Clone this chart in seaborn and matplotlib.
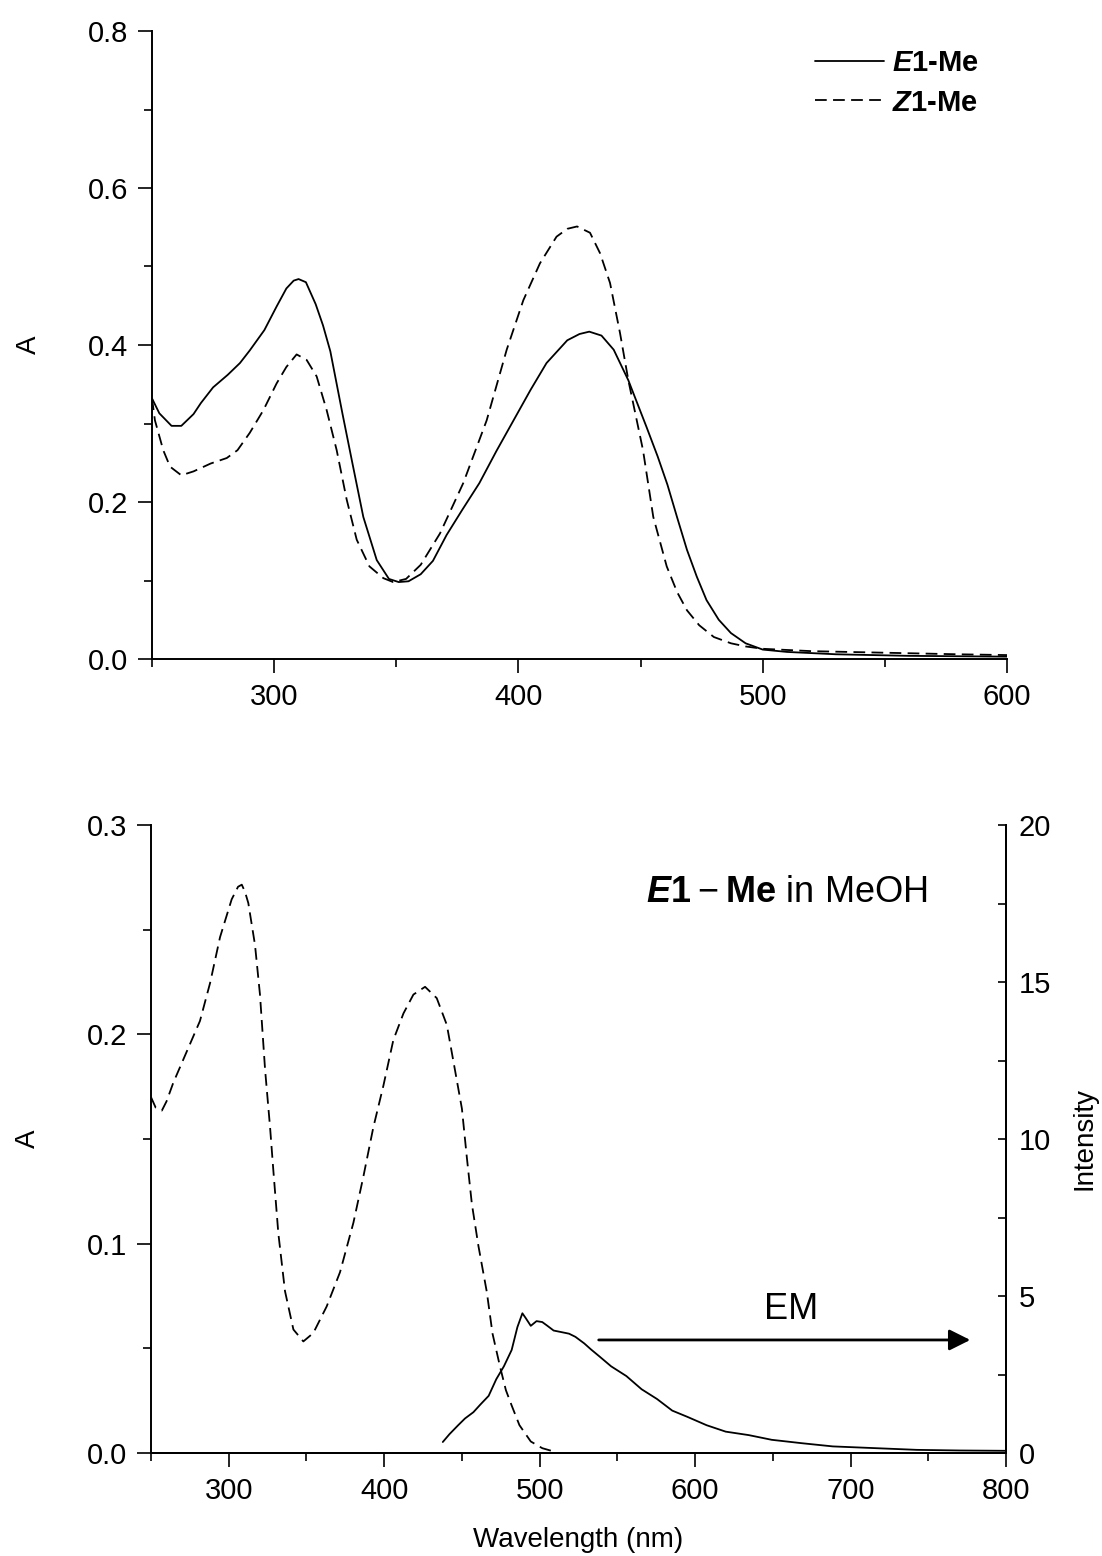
import matplotlib
matplotlib.use("Agg")
import matplotlib.pyplot as plt
from matplotlib.ticker import MultipleLocator, FormatStrFormatter
import pandas as pd
import seaborn as sns

# ---- absorption spectra (top panel) ----
e_wl = [250, 253, 258, 262, 267, 270, 275, 281, 286, 290, 296, 301, 305, 308, 310,
        313, 317, 320, 323, 328, 332, 336.5, 342, 347, 351, 355, 360, 365, 370.6,
        377, 384, 391, 398, 405, 411.5, 420, 425, 429, 434, 439, 445, 452.5, 457,
        461, 465, 469, 473, 477, 482, 487, 493, 500, 510, 530, 560, 600]
e_abs = [0.332, 0.313, 0.297, 0.297, 0.312, 0.326, 0.346, 0.362, 0.377, 0.393, 0.419,
         0.449, 0.472, 0.482, 0.484, 0.480, 0.452, 0.425, 0.392, 0.312, 0.250, 0.181,
         0.126, 0.102, 0.098, 0.099, 0.108, 0.125, 0.158, 0.190, 0.224, 0.265, 0.304,
         0.343, 0.377, 0.406, 0.414, 0.417, 0.412, 0.394, 0.355, 0.295, 0.258, 0.222,
         0.180, 0.139, 0.105, 0.075, 0.050, 0.033, 0.020, 0.012, 0.009, 0.006, 0.004,
         0.003]

z_wl = [250, 251.2, 254.6, 257.4, 262, 267, 274, 280.6, 285, 290, 295.6, 301, 305,
        309.2, 313.3, 317.4, 321.5, 325.6, 329.7, 333.8, 339, 344.7, 348.7, 354, 360,
        367.9, 377.4, 387, 395.2, 402, 408.8, 415.6, 420, 424, 429.3, 433.4, 437.5,
        441.6, 445, 451, 455.2, 460.7, 465, 469, 474, 480, 487, 493, 500, 520, 550,
        580, 600]
z_abs = [0.332, 0.304, 0.266, 0.245, 0.234, 0.239, 0.249, 0.256, 0.266, 0.288, 0.317,
         0.351, 0.372, 0.388, 0.381, 0.360, 0.317, 0.266, 0.203, 0.152, 0.118, 0.103,
         0.098, 0.102, 0.120, 0.160, 0.224, 0.304, 0.394, 0.457, 0.504, 0.538, 0.548,
         0.551, 0.543, 0.517, 0.479, 0.415, 0.355, 0.266, 0.181, 0.118, 0.085, 0.062,
         0.043, 0.028, 0.020, 0.016, 0.013, 0.010, 0.008, 0.006, 0.005]

# ---- E1-Me in MeOH (bottom panel) ----
abs_wl = [250, 253, 257, 260, 264.4, 270.8, 281.5, 288, 294.4, 301.9, 306, 308.4,
          310.5, 312.6, 316.9, 320.1, 323.4, 326.6, 328.7, 331.9, 336.2, 341.6, 348,
          354.4, 363, 371.6, 380.2, 386.6, 393, 399.5, 405.9, 412.4, 418.8, 426.3,
          433.8, 440.3, 445.6, 450, 453.2, 456.4, 460.6, 466, 469.7, 474.6, 478.3,
          482, 487, 494.3, 501.7, 507.8]
abs_val = [0.170, 0.165, 0.1636, 0.168, 0.177, 0.188, 0.2064, 0.2245, 0.2464, 0.2645,
           0.2705, 0.2715, 0.268, 0.2627, 0.2427, 0.219, 0.183, 0.1555, 0.135, 0.105,
           0.0773, 0.059, 0.0533, 0.0573, 0.070, 0.0864, 0.110, 0.132, 0.1555, 0.1755,
           0.1973, 0.210, 0.219, 0.2227, 0.2173, 0.2045, 0.1827, 0.1645, 0.141, 0.119,
           0.099, 0.077, 0.057, 0.041, 0.030, 0.0227, 0.0133, 0.0055, 0.0023, 0.001]

em_wl = [437.7, 442, 447.5, 452, 457.4, 462, 467.2, 472.1, 477, 482, 485.7, 488.9,
         491, 494.3, 498, 501.7, 505, 509, 514, 518.9, 523, 528.7, 533, 538.6, 546,
         555.8, 565.6, 575.5, 585.3, 595.1, 607.4, 619.7, 634.5, 649.3, 669, 688.6,
         713.2, 742.7, 770, 800]
em_int = [0.35, 0.60, 0.88, 1.10, 1.30, 1.55, 1.82, 2.35, 2.76, 3.28, 4.01, 4.45,
          4.30, 4.05, 4.20, 4.17, 4.05, 3.90, 3.85, 3.80, 3.70, 3.49, 3.30, 3.07, 2.76,
          2.45, 2.03, 1.72, 1.35, 1.15, 0.885, 0.68, 0.57, 0.42, 0.31, 0.21, 0.16,
          0.10, 0.08, 0.07]

top_df = pd.concat([
    pd.DataFrame({"wl": e_wl, "A": e_abs, "isomer": "E"}),
    pd.DataFrame({"wl": z_wl, "A": z_abs, "isomer": "Z"}),
])
abs_df = pd.DataFrame({"wl": abs_wl, "A": abs_val})
em_df = pd.DataFrame({"wl": em_wl, "I": em_int})

sns.set_theme(style="ticks")
plt.rcParams["font.family"] = ["Liberation Sans", "DejaVu Sans"]
plt.rcParams["mathtext.fontset"] = "custom"
plt.rcParams["mathtext.rm"] = "Liberation Sans"
plt.rcParams["mathtext.it"] = "Liberation Sans:italic"
plt.rcParams["mathtext.bf"] = "Liberation Sans:bold"
plt.rcParams["mathtext.bfit"] = "Liberation Sans:bold:italic"
plt.rcParams["axes.linewidth"] = 1.4
plt.rcParams["axes.edgecolor"] = "black"
plt.rcParams["text.color"] = "black"
plt.rcParams["axes.labelcolor"] = "black"
plt.rcParams["xtick.color"] = "black"
plt.rcParams["ytick.color"] = "black"

LW = 1.3
DASH = (0, (6.5, 3.5))
TICK = 21
LABEL = 20

fig = plt.figure(figsize=(11.02, 15.56), dpi=100)
ax_top = fig.add_axes([152 / 1102, 897 / 1556, 855 / 1102, 628 / 1556])
ax_bot = fig.add_axes([151 / 1102, 103 / 1556, 855 / 1102, 628 / 1556])

# top: absorption of both isomers
sns.lineplot(data=top_df[top_df.isomer == "E"], x="wl", y="A", ax=ax_top,
             color="black", lw=LW, label=r"$\mathbfit{E}$1-Me", sort=False)
sns.lineplot(data=top_df[top_df.isomer == "Z"], x="wl", y="A", ax=ax_top,
             color="black", lw=LW, linestyle=DASH, label=r"$\mathbfit{Z}$1-Me",
             sort=False)
ax_top.set_xlim(250, 600)
ax_top.set_ylim(0, 0.8)
ax_top.xaxis.set_major_locator(MultipleLocator(100))
ax_top.xaxis.set_minor_locator(MultipleLocator(50))
ax_top.yaxis.set_major_locator(MultipleLocator(0.2))
ax_top.yaxis.set_minor_locator(MultipleLocator(0.1))
ax_top.yaxis.set_major_formatter(FormatStrFormatter("%.1f"))
ax_top.set_xlabel("")
ax_top.set_ylabel("A", fontsize=LABEL)
ax_top.yaxis.set_label_coords(-0.1287, 0.5)
for s in ("top", "right"):
    ax_top.spines[s].set_visible(False)
leg = ax_top.legend(loc="upper left", bbox_to_anchor=(815 / 1102, 1507 / 1556),
                    bbox_transform=fig.transFigure, frameon=False,
                    prop={"size": 21, "weight": "bold"}, handlelength=2.35,
                    handletextpad=0.28, borderpad=0, borderaxespad=0,
                    labelspacing=0.4)

# bottom: absorption (left axis) and emission (right axis)
sns.lineplot(data=abs_df, x="wl", y="A", ax=ax_bot, color="black", lw=LW,
             linestyle=DASH, sort=False)
ax_bot.set_xlim(250, 800)
ax_bot.set_ylim(0, 0.3)
ax_bot.xaxis.set_major_locator(MultipleLocator(100))
ax_bot.xaxis.set_minor_locator(MultipleLocator(50))
ax_bot.yaxis.set_major_locator(MultipleLocator(0.1))
ax_bot.yaxis.set_minor_locator(MultipleLocator(0.05))
ax_bot.yaxis.set_major_formatter(FormatStrFormatter("%.1f"))
ax_bot.set_ylabel("A", fontsize=LABEL)
ax_bot.yaxis.set_label_coords(-0.1287, 0.5)
ax_bot.set_xlabel("Wavelength (nm)", fontsize=LABEL)
ax_bot.xaxis.set_label_coords(0.5, -0.118)
ax_bot.spines["top"].set_visible(False)

ax_em = ax_bot.twinx()
sns.lineplot(data=em_df, x="wl", y="I", ax=ax_em, color="black", lw=LW, sort=False)
ax_em.set_ylim(0, 20)
ax_em.set_xlim(250, 800)
ax_em.yaxis.set_major_locator(MultipleLocator(5))
ax_em.yaxis.set_minor_locator(MultipleLocator(2.5))
ax_em.set_ylabel("Intensity", fontsize=LABEL)
ax_em.yaxis.set_label_coords(1.077, 0.5)
ax_em.spines["top"].set_visible(False)
ax_em.spines["left"].set_visible(False)
ax_em.tick_params(axis="y", which="both", direction="in", length=6, width=1.2,
                  labelsize=TICK, pad=9, colors="black")

for ax in (ax_top, ax_bot):
    ax.tick_params(axis="both", which="major", direction="out", length=10,
                   width=1.2, labelsize=TICK, pad=7, colors="black")
    ax.tick_params(axis="both", which="minor", direction="out", length=6,
                   width=1.2)

ax_em.annotate("", xy=(777, 3.6), xytext=(538, 3.6),
               arrowprops=dict(arrowstyle="-|>", lw=2.0, color="black",
                               mutation_scale=32, shrinkA=0, shrinkB=0))
ax_em.text(662, 4.0, "EM", fontsize=26, ha="center", va="bottom")
ax_bot.text(0.744, 0.892, r"$\mathbfit{E}\mathbf{1}$" + "\u2009\u2212\u2009"
            + r"$\mathbf{Me}$ in MeOH", transform=ax_bot.transAxes,
            fontsize=26, ha="center", va="center")

fig.savefig("out.png", dpi=100, facecolor="white")
